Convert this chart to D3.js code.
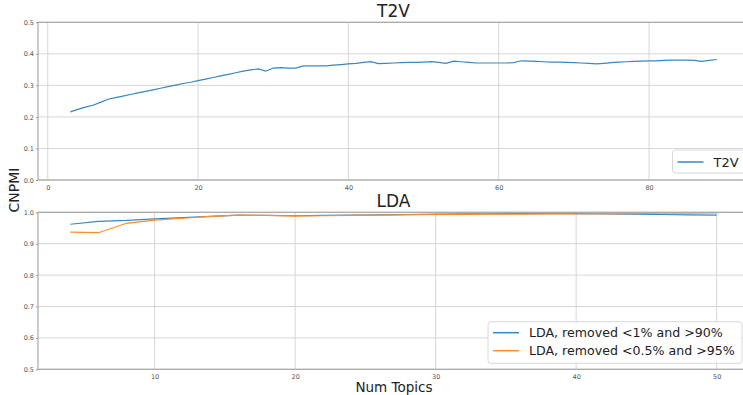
<!DOCTYPE html>
<html><head><meta charset="utf-8">
<script src="https://cdn.jsdelivr.net/npm/d3@7"></script>
<style>
body{margin:0;background:#fff;}
svg{display:block;font-family:"DejaVu Sans",sans-serif;}
</style></head><body>
<svg id="c" width="743" height="395"></svg>
<script>
// ---- data ----
const t2vTopics = d3.range(3, 90);
const t2vValues = [0.216,0.224,0.231,0.237,0.246,0.256,0.261,0.266,0.271,0.276,0.281,0.286,0.291,0.296,0.301,0.306,0.310,0.315,0.320,0.325,0.330,0.335,0.340,0.345,0.349,0.352,0.345,0.355,0.356,0.355,0.355,0.362,0.362,0.362,0.362,0.364,0.366,0.368,0.370,0.373,0.375,0.369,0.370,0.371,0.372,0.373,0.373,0.374,0.375,0.373,0.370,0.377,0.375,0.373,0.371,0.371,0.371,0.371,0.371,0.372,0.378,0.377,0.376,0.375,0.374,0.374,0.373,0.372,0.371,0.370,0.368,0.370,0.372,0.374,0.375,0.376,0.377,0.378,0.378,0.379,0.380,0.380,0.380,0.379,0.376,0.379,0.382];
const ldaTopics = [4,6,8,10,12,14,16,18,20,22,24,26,28,30,32,34,36,38,40,42,44,46,48,50];
const lda1Values = [0.962,0.971,0.974,0.979,0.983,0.987,0.991,0.990,0.989,0.990,0.991,0.992,0.993,0.994,0.995,0.995,0.996,0.996,0.996,0.995,0.994,0.993,0.992,0.991];
const lda2Values = [0.937,0.935,0.965,0.975,0.981,0.987,0.991,0.990,0.988,0.989,0.990,0.991,0.992,0.993,0.993,0.994,0.994,0.995,0.995,0.996,0.996,0.997,0.997,0.998];
const t2vXTicks = [0,20,40,60,80];
const t2vYTicks = [0,0.1,0.2,0.3,0.4,0.5];
const ldaXTicks = [10,20,30,40,50];
const ldaYTicks = [0.5,0.6,0.7,0.8,0.9,1.0];
const seriesNames = ["T2V","LDA, removed <1% and >90%","LDA, removed <0.5% and >95%"];
const colors = ["#3a87c0","#3a87c0","#ff8c2a"];

const svg = d3.select("#c");
const L = 38, R = 749;

function panel(top, bottom, xDom, yDom, xTicks, yTicks, title, series){
  const x = d3.scaleLinear().domain(xDom).range([L, R]);
  const y = d3.scaleLinear().domain(yDom).range([bottom, top]);
  const g = svg.append("g");
  g.selectAll(".gx").data(xTicks).join("line")
    .attr("x1", d=>x(d)).attr("x2", d=>x(d)).attr("y1", top).attr("y2", bottom)
    .attr("stroke", "#d6d6d6").attr("stroke-width", 1);
  g.selectAll(".gy").data(yTicks).join("line")
    .attr("x1", L).attr("x2", R).attr("y1", d=>y(d)).attr("y2", d=>y(d))
    .attr("stroke", "#d6d6d6").attr("stroke-width", 1);
  const ax = d3.axisBottom(x).tickValues(xTicks).tickSize(0).tickPadding(5).tickFormat(d3.format("d"));
  const gx = g.append("g").attr("transform", `translate(0,${bottom})`).call(ax);
  gx.select(".domain").remove();
  gx.selectAll("text").attr("font-size", 6.5).attr("fill", "#555").attr("font-family","DejaVu Sans");
  const ay = d3.axisLeft(y).tickValues(yTicks).tickSize(2).tickPadding(2).tickFormat(d3.format(".1f"));
  const gy = g.append("g").attr("transform", `translate(${L},0)`).call(ay);
  gy.select(".domain").remove();
  gy.selectAll("line").attr("stroke", "#999");
  gy.selectAll("text").attr("font-size", 6.5).attr("fill", "#555").attr("font-family","DejaVu Sans");
  series.forEach(s => {
    g.append("path").datum(s.xs.map((d,i)=>[d, s.ys[i]]))
      .attr("fill","none").attr("stroke", s.color).attr("stroke-width", 1.2)
      .attr("d", d3.line().x(d=>x(d[0])).y(d=>y(d[1])));
  });
  g.append("rect").attr("x", L).attr("y", top).attr("width", R-L).attr("height", bottom-top)
    .attr("fill","none").attr("stroke","#a8a8a8").attr("stroke-width",1.2);
  svg.append("text").attr("x", (L+R)/2).attr("y", top-5).attr("text-anchor","middle")
    .attr("font-size", 17).attr("fill","#222").text(title);
  return {x, y};
}

panel(22.3, 180, [-1.3, 93.3], [0, 0.5], t2vXTicks, t2vYTicks, "T2V",
  [{xs: t2vTopics, ys: t2vValues, color: colors[0]}]);
panel(212.3, 369.3, [1.7, 52.3], [0.5, 1.0], ldaXTicks, ldaYTicks, "LDA",
  [{xs: ldaTopics, ys: lda1Values, color: colors[1]},
   {xs: ldaTopics, ys: lda2Values, color: colors[2]}]);

function legend(x0, y0, w, h, items, fs){
  const g = svg.append("g");
  g.append("rect").attr("x", x0).attr("y", y0).attr("width", w).attr("height", h)
    .attr("rx", 3).attr("fill","#fff").attr("fill-opacity",0.85)
    .attr("stroke","#d8d8d8").attr("stroke-width",1);
  items.forEach((it,i)=>{
    g.append("line").attr("x1", x0+5).attr("x2", x0+31).attr("y1", it.y).attr("y2", it.y)
      .attr("stroke", it.color).attr("stroke-width", 1.5);
    g.append("text").attr("x", x0+41).attr("y", it.y).attr("dy","0.36em")
      .attr("font-size", fs).attr("fill","#222").text(it.name);
  });
}
legend(672.5, 150, 80, 23, [{name: seriesNames[0], color: colors[0], y: 162}], 13);
legend(488, 321.7, 254, 41.6, [
  {name: seriesNames[1], color: colors[1], y: 332.7},
  {name: seriesNames[2], color: colors[2], y: 350.7}], 12.6);

svg.append("text").attr("transform","translate(19,190) rotate(-90)").attr("text-anchor","middle")
  .attr("font-size", 14).attr("fill","#222").text("CNPMI");
svg.append("text").attr("x", 394).attr("y", 392).attr("text-anchor","middle")
  .attr("font-size", 13.5).attr("fill","#222").text("Num Topics");
</script>
</body></html>
